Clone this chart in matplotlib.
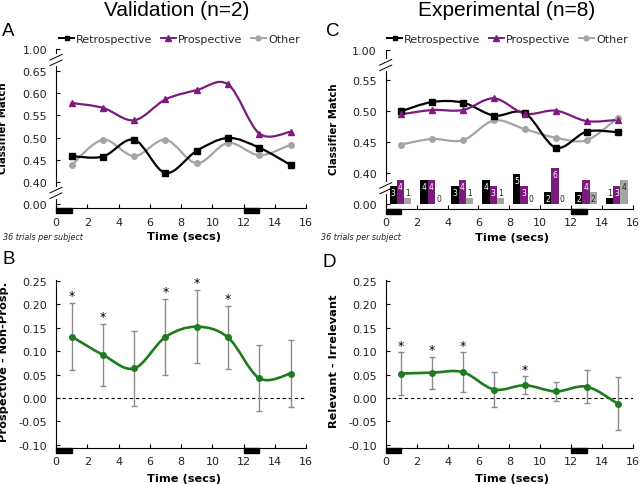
import numpy as np
import matplotlib
matplotlib.use('Agg')
import matplotlib.pyplot as plt
from matplotlib.path import Path
from matplotlib.patches import PathPatch, Rectangle
from matplotlib.lines import Line2D
from matplotlib import transforms

plt.rcParams['font.family'] = 'DejaVu Sans'
plt.rcParams['axes.unicode_minus'] = False

# time points (secs)
time_s = [1, 3, 5, 7, 9, 11, 13, 15]

# Panel A - validation classifier match
val_retro = [0.458, 0.457, 0.495, 0.420, 0.470, 0.499, 0.477, 0.438]
val_pro = [0.578, 0.567, 0.539, 0.586, 0.607, 0.620, 0.509, 0.513]
val_other = [0.438, 0.495, 0.458, 0.495, 0.442, 0.488, 0.460, 0.484]

# Panel C - experimental classifier match
exp_retro = [0.500, 0.515, 0.514, 0.493, 0.497, 0.441, 0.467, 0.466]
exp_pro = [0.495, 0.502, 0.502, 0.521, 0.496, 0.501, 0.484, 0.486]
exp_other = [0.446, 0.455, 0.453, 0.485, 0.471, 0.457, 0.453, 0.489]

# Panel C - number of subjects per winning category
n_retro = [3, 4, 3, 4, 5, 2, 2, 1]
n_pro = [4, 4, 4, 3, 3, 6, 4, 3]
n_other = [1, 0, 1, 1, 0, 0, 2, 4]

# Panel B - prospective minus non-prospective
diff_val = [0.131, 0.092, 0.063, 0.130, 0.152, 0.129, 0.042, 0.052]
diff_val_err = [0.072, 0.066, 0.080, 0.081, 0.078, 0.067, 0.070, 0.072]
sig_val = [1, 1, 0, 1, 1, 1, 0, 0]

# Panel D - relevant minus irrelevant
diff_exp = [0.052, 0.054, 0.055, 0.018, 0.027, 0.014, 0.024, -0.012]
diff_exp_err = [0.045, 0.034, 0.042, 0.037, 0.019, 0.021, 0.035, 0.057]
sig_exp = [1, 1, 1, 0, 1, 0, 0, 0]

# cue / probe windows marked under the time axis
cue_windows = [(0, 1), (12, 13)]

BLACK = '#000000'
PURPLE = '#7d1a7d'
GRAY = '#a5a5a5'
GREEN = '#1e7b1e'
ERR = '#8c8c8c'


def smooth_path(x, y):
    # Excel-style smoothed line as cubic bezier segments
    pts = np.column_stack([np.asarray(x, float), np.asarray(y, float)])
    n = len(pts)
    verts = [pts[0]]
    codes = [Path.MOVETO]
    for i in range(n - 1):
        p0 = pts[max(i - 1, 0)]
        p1 = pts[i]
        p2 = pts[i + 1]
        p3 = pts[min(i + 2, n - 1)]
        verts += [p1 + (p2 - p0) / 6, p2 - (p3 - p1) / 6, p2]
        codes += [Path.CURVE4] * 3
    return Path(verts, codes)


def smooth_line(ax, x, y, color, lw=1.6):
    ax.add_patch(PathPatch(smooth_path(x, y), facecolor='none', edgecolor=color,
                           lw=lw, capstyle='round', zorder=2))


def broken_scale(ax, knots_val, knots_pos):
    fwd = lambda v: np.interp(v, knots_val, knots_pos)
    inv = lambda p: np.interp(p, knots_pos, knots_val)
    ax.set_yscale('function', functions=(fwd, inv))
    return fwd, inv


def axis_break(ax, yval):
    anchor = transforms.blended_transform_factory(ax.transAxes, ax.transData)
    tr = ax.figure.dpi_scale_trans + transforms.ScaledTranslation(0, yval, anchor)
    ax.plot([0, 0], [-0.04, 0.04], color='white', lw=3, transform=tr,
            clip_on=False, zorder=5)
    for d in (-0.028, 0.028):
        ax.plot([-0.06, 0.06], [d - 0.028, d + 0.028], color='k', lw=0.7,
                transform=tr, clip_on=False, zorder=6)


def style_axes(ax):
    for s in ('top', 'right'):
        ax.spines[s].set_visible(False)
    for s in ('left', 'bottom'):
        ax.spines[s].set_linewidth(0.8)
    ax.tick_params(axis='both', direction='in', length=3, width=0.8,
                   labelsize=8, labelcolor='#222222')
    ax.tick_params(axis='y', pad=6.5)
    ax.tick_params(axis='x', pad=6)
    ax.set_xlim(0, 16)
    ax.set_xticks(range(0, 17, 2))
    tr = transforms.blended_transform_factory(ax.transData, ax.transAxes)
    for a, b in cue_windows:
        ax.add_patch(Rectangle((a, -0.03), b - a, 0.03, transform=tr,
                               color='k', clip_on=False, zorder=5))
    ax.set_xlabel('Time (secs)', fontsize=8.2, fontweight='bold')
    ax.xaxis.label.set_va('center')


fig = plt.figure(figsize=(6.4, 4.85), dpi=100)

axA = fig.add_axes([0.0875, 0.5685, 0.391, 0.3285])
axC = fig.add_axes([0.6027, 0.567, 0.3865, 0.3285])
axB = fig.add_axes([0.0875, 0.074, 0.391, 0.347])
axD = fig.add_axes([0.6027, 0.074, 0.3865, 0.347])

# ---- top panels: classifier match with broken y axis
top_specs = [
    (axA, val_retro, val_pro, val_other,
     [-1, 0, 0.40, 0.65, 1.00, 2.00], [-2.5, 0, 1, 6, 7, 7 + 1 / 0.35],
     [0.00, 0.40, 0.45, 0.50, 0.55, 0.60, 0.65, 1.00], (-0.078, 1.0), (0.20, 0.825)),
    (axC, exp_retro, exp_pro, exp_other,
     [-1, 0, 0.40, 0.55, 1.00, 2.00], [-2.5, 0, 1, 4, 5, 5 + 1 / 0.45],
     [0.00, 0.40, 0.45, 0.50, 0.55, 1.00], (-0.07, 1.0), (0.20, 0.775)),
]
scales = {}
for ax, retro, pro, other, kv, kp, yt, ylim, brks in top_specs:
    fwd, inv = broken_scale(ax, kv, kp)
    scales[ax] = fwd
    style_axes(ax)
    smooth_line(ax, time_s, other, GRAY)
    smooth_line(ax, time_s, retro, BLACK)
    smooth_line(ax, time_s, pro, PURPLE)
    ax.plot(time_s, other, ls='none', marker='o', ms=4, color=GRAY, zorder=3)
    ax.plot(time_s, retro, ls='none', marker='s', ms=4, color=BLACK, zorder=3)
    ax.plot(time_s, pro, ls='none', marker='^', ms=4.5, color=PURPLE, zorder=3)
    ax.set_ylim(*ylim)
    ax.set_yticks(yt)
    ax.set_yticklabels(['%.2f' % v for v in yt])
    ax.yaxis.set_minor_locator(matplotlib.ticker.NullLocator())
    ax.set_ylabel('Classifier Match', fontsize=7.3, fontweight='bold')
    ax.yaxis.set_label_coords(-0.19, 0.51)
    ax.xaxis.set_label_coords(0.51, -0.174)
    for b in brks:
        axis_break(ax, b)

handles = [Line2D([], [], color=BLACK, marker='s', ms=3.5, lw=1.4),
           Line2D([], [], color=PURPLE, marker='^', ms=4, lw=1.4),
           Line2D([], [], color=GRAY, marker='o', ms=3.5, lw=1.4)]
for x0 in (59 / 640, 387 / 640):
    fig.legend(handles, ['Retrospective', 'Prospective', 'Other'], ncol=3,
               loc='center left', bbox_to_anchor=(x0, 1 - 40 / 485),
               frameon=False, fontsize=8, handlelength=1.35, handletextpad=0.2,
               columnspacing=0.75, borderpad=0, borderaxespad=0,
               labelcolor='#2a2a2a')

# ---- bar counts inside panel C bottom strip
axBar = axC.twinx()
units_per_count = 0.193
fwdC = scales[axC]
axBar.set_ylim(fwdC(-0.07) / units_per_count, fwdC(1.0) / units_per_count)
axBar.axis('off')
t = np.array(time_s, float)
for counts, color, off, txt in ((n_retro, BLACK, -0.52, 'white'),
                                (n_pro, PURPLE, -0.05, 'white'),
                                (n_other, GRAY, 0.42, '#222222')):
    axBar.bar(t + off, counts, width=0.47, color=color, zorder=1)
    for xi, c in zip(t + off, counts):
        if c >= 2:
            axBar.annotate(str(c), (xi, c), xytext=(0, -1.5), textcoords='offset points',
                           ha='center', va='top', fontsize=5.5, color=txt)
        else:
            axBar.annotate(str(c), (xi, c), xytext=(0, 0.3), textcoords='offset points',
                           ha='center', va='bottom', fontsize=5.5, color='#222222')

# ---- bottom panels: differences with error bars
bottom_specs = [
    (axB, diff_val, diff_val_err, sig_val, 'Prospective - Non-Prosp.'),
    (axD, diff_exp, diff_exp_err, sig_exp, 'Relevant - Irrelevant'),
]
for ax, mean, err, sig, lab in bottom_specs:
    style_axes(ax)
    ax.axhline(0, color='k', lw=0.8, ls=(0, (3, 2.5)), zorder=1)
    ax.errorbar(time_s, mean, yerr=err, fmt='none', ecolor=ERR, elinewidth=1,
                capsize=2, capthick=1, zorder=2)
    smooth_line(ax, time_s, mean, GREEN, lw=1.9)
    ax.plot(time_s, mean, ls='none', marker='o', ms=4, color=GREEN, zorder=4)
    for xi, m, e, s in zip(time_s, mean, err, sig):
        if s:
            ax.annotate('*', (xi, m + e), xytext=(0, 0.5), textcoords='offset points',
                        ha='center', va='bottom', fontsize=9)
    ax.set_ylim(-0.107, 0.252)
    yt = np.round(np.arange(-0.10, 0.251, 0.05), 2)
    ax.set_yticks(yt)
    ax.set_yticklabels(['%.2f' % v for v in yt])
    ax.set_ylabel(lab, fontsize=8.2, fontweight='bold')
    ax.yaxis.set_label_coords(-0.188, 0.52)
    ax.xaxis.set_label_coords(0.51, -0.177)

# ---- titles, panel letters, notes
fig.text(177 / 640, 1 - 10 / 485, 'Validation (n=2)', family='Liberation Sans',
         fontsize=15, ha='center', va='center')
fig.text(507 / 640, 1 - 10 / 485, 'Experimental (n=8)', family='Liberation Sans',
         fontsize=15, ha='center', va='center')
for letter, x, y in (('A', 2, 32), ('C', 326, 32), ('B', 2, 259), ('D', 322, 263)):
    fig.text(x / 640, 1 - y / 485, letter, family='Liberation Sans', fontsize=13.5,
             ha='left', va='center')
for x in (3, 321):
    fig.text(x / 640, 1 - 238 / 485, '36 trials per subject', fontsize=5.8,
             style='italic', ha='left', va='center', color='#222222')

plt.savefig('out.png', dpi=100)
